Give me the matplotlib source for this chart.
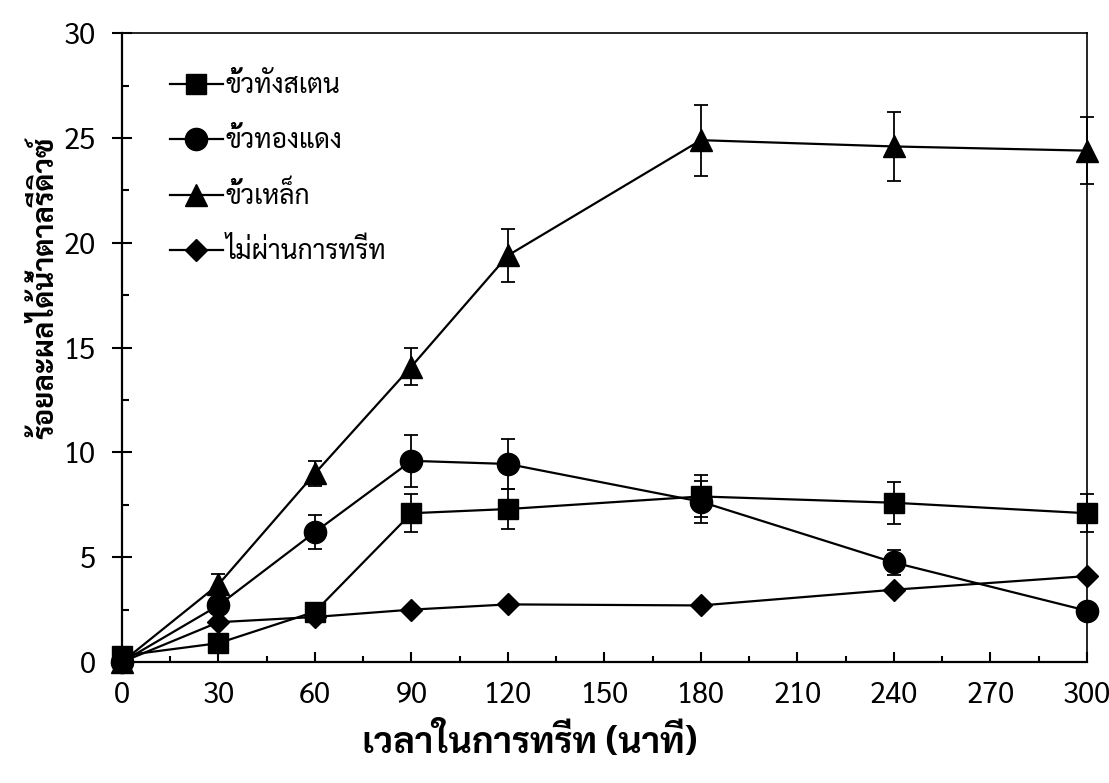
import matplotlib
matplotlib.use('Agg')
import matplotlib.pyplot as plt
from matplotlib.ticker import MultipleLocator

plt.rcParams['font.family'] = ['Sarabun', 'DejaVu Sans']

# treatment time (min)
time = [0, 30, 60, 90, 120, 180, 240, 300]

tungsten = [0.3, 0.9, 2.4, 7.1, 7.3, 7.9, 7.6, 7.1]
tungsten_err = [0.0, 0.2, 0.3, 0.9, 0.95, 1.0, 1.0, 0.9]

copper = [0.0, 2.7, 6.2, 9.6, 9.45, 7.65, 4.75, 2.45]
copper_err = [0.0, 0.3, 0.8, 1.25, 1.2, 1.0, 0.6, 0.3]

iron = [0.0, 3.7, 9.0, 14.1, 19.4, 24.9, 24.6, 24.4]
iron_err = [0.0, 0.5, 0.6, 0.9, 1.25, 1.7, 1.65, 1.6]

control = [0.0, 1.9, 2.15, 2.5, 2.75, 2.7, 3.45, 4.1]

labels = ['ขั้วทังสเตน', 'ขั้วทองแดง', 'ขั้วเหล็ก', 'ไม่ผ่านการทรีท']

fig = plt.figure(figsize=(11.09, 7.83), dpi=100)
ax = fig.add_axes([0.110, 0.1545, 0.870, 0.803])

kw = dict(color='black', lw=1.6, ecolor='black', elinewidth=1.3, capsize=5,
          capthick=1.3, clip_on=False)
c1 = ax.errorbar(time, tungsten, yerr=tungsten_err, marker='s', ms=15, **kw)
c2 = ax.errorbar(time, copper, yerr=copper_err, marker='o', ms=16, **kw)
c3 = ax.errorbar(time, iron, yerr=iron_err, marker='^', ms=16, **kw)
l4, = ax.plot(time, control, color='black', lw=1.6, marker='D', ms=11, clip_on=False)

ax.set_xlim(0, 300)
ax.set_ylim(0, 30)
ax.xaxis.set_major_locator(MultipleLocator(30))
ax.xaxis.set_minor_locator(MultipleLocator(15))
ax.yaxis.set_major_locator(MultipleLocator(5))
ax.yaxis.set_minor_locator(MultipleLocator(2.5))

for s in ax.spines.values():
    s.set_linewidth(1.6)
ax.spines['top'].set_linewidth(1.2)
ax.spines['right'].set_linewidth(1.2)

ax.tick_params(axis='x', which='major', direction='in', length=7, width=1.5,
               pad=14, labelsize=21)
ax.tick_params(axis='x', which='minor', direction='in', length=4, width=1.5)
ax.tick_params(axis='y', which='major', direction='inout', length=14, width=1.5,
               pad=12, labelsize=21)
ax.tick_params(axis='y', which='minor', direction='in', length=5, width=1.5)

ax.set_xlabel('เวลาในการทรีท (นาที)', fontsize=26, fontweight='bold')
ax.xaxis.set_label_coords(0.423, -0.099)
ax.set_ylabel('ร้อยละผลได้น้ำตาลรีดิวซ์', fontsize=21, fontweight='bold')
ax.yaxis.set_label_coords(-0.064, 0.596)

ax.legend([c1[0], c2[0], c3[0], l4], labels, loc='upper left',
          bbox_to_anchor=(0.025, 0.975), frameon=False,
          fontsize=19, handlelength=2.0, handletextpad=0.1, labelspacing=1.05,
          numpoints=1)

fig.savefig('out.png', dpi=100)
